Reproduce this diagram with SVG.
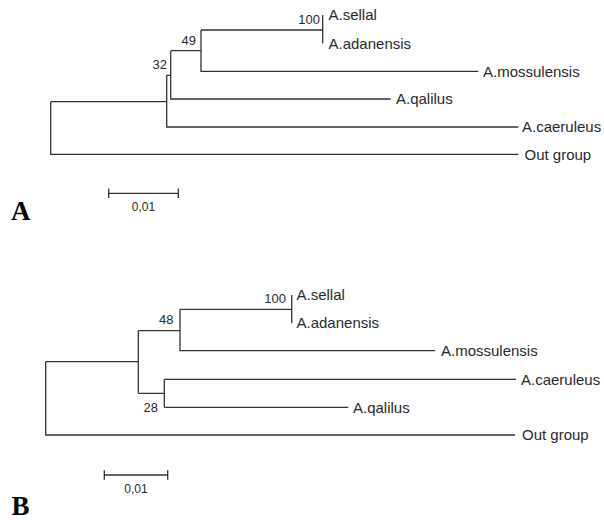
<svg xmlns="http://www.w3.org/2000/svg" width="604" height="520" viewBox="0 0 604 520">
<style>
.br{fill:none;stroke:#333;stroke-width:1.3}
.lb{font-family:"Liberation Sans",Arial,sans-serif;font-size:15px;fill:#2a2a2a}
.bs{font-family:"Liberation Sans",Arial,sans-serif;font-size:13px;fill:#2a2a2a;text-anchor:end}
.sc{font-family:"Liberation Sans",Arial,sans-serif;font-size:12px;fill:#2a2a2a;text-anchor:middle}
.pn{font-family:"Liberation Serif","Times New Roman",serif;font-size:27px;font-weight:bold;fill:#000}
</style>
<rect width="604" height="520" fill="#fff"/>
<g id="connectors">
<path class="br" d="M50.7,101.7V154.3H518.3M50.7,101.7H166.7M166.7,75.3V127H518.3M166.7,75.3H170.7M170.7,50.7V99H390.7M170.7,50.7H201M201,30V71.3H478.3M201,30H322.7M322.7,15V43.3"/>
<path class="br" d="M45.7,361.7V435H515M45.7,361.7H138.3M138.3,330.7V393.3M138.3,330.7H180M180,309.3V350.7H435M180,309.3H291.7M291.7,295V323.3M138.3,393.3H164.3M164.3,379.3V407.3M164.3,379.3H516M164.3,407.3H348.3"/>
</g>
<g id="treeA-labels">
<g id="A-sellal"><text class="lb" x="328.5" y="20.3">A.sellal</text></g>
<g id="A-adanensis"><text class="lb" x="328.5" y="48.8">A.adanensis</text></g>
<g id="A-mossulensis"><text class="lb" x="483" y="76.7">A.mossulensis</text></g>
<g id="A-qalilus"><text class="lb" x="396" y="104.3">A.qalilus</text></g>
<g id="A-caeruleus"><text class="lb" x="522" y="132.3">A.caeruleus</text></g>
<g id="A-outgroup"><text class="lb" x="524.5" y="159.7">Out group</text></g>
<text class="bs" x="320" y="24">100</text>
<text class="bs" x="196" y="44.5">49</text>
<text class="bs" x="167" y="68.5">32</text>
</g>
<g id="scaleA">
<path class="br" d="M108.7,193.3H178.3M108.7,188.5V198M178.3,188.5V198"/>
<text class="sc" x="143.5" y="211">0,01</text>
</g>
<text class="pn" x="11" y="219.5">A</text>
<g id="treeB-labels">
<g id="B-sellal"><text class="lb" x="296.5" y="300.3">A.sellal</text></g>
<g id="B-adanensis"><text class="lb" x="296.5" y="328.3">A.adanensis</text></g>
<g id="B-mossulensis"><text class="lb" x="441" y="356">A.mossulensis</text></g>
<g id="B-caeruleus"><text class="lb" x="521" y="384.6">A.caeruleus</text></g>
<g id="B-qalilus"><text class="lb" x="353" y="412.6">A.qalilus</text></g>
<g id="B-outgroup"><text class="lb" x="522" y="440.3">Out group</text></g>
<text class="bs" x="286" y="303">100</text>
<text class="bs" x="173.5" y="324">48</text>
<text class="bs" x="158" y="411.5">28</text>
</g>
<g id="scaleB">
<path class="br" d="M104.3,475H167.7M104.3,470.2V479.8M167.7,470.2V479.8"/>
<text class="sc" x="136" y="493">0,01</text>
</g>
<text class="pn" x="11.5" y="515">B</text>
</svg>
